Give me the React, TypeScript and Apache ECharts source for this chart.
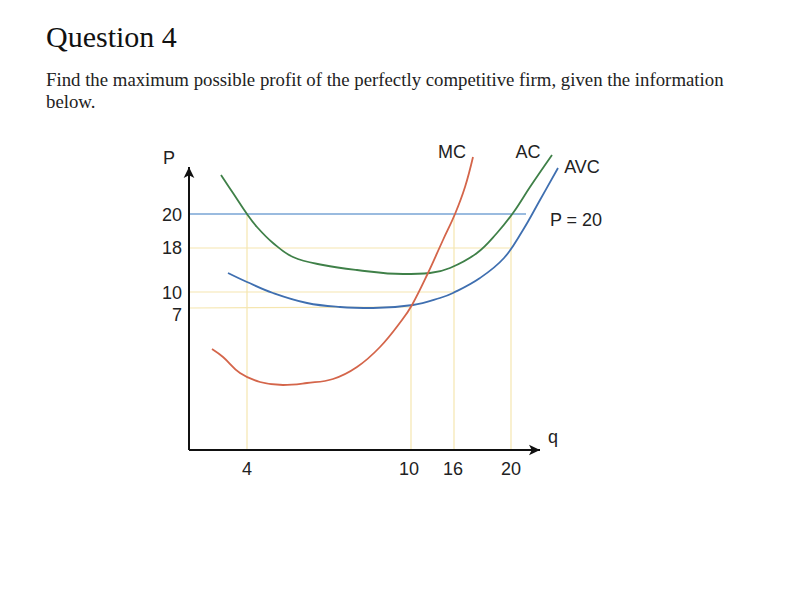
import React, { useEffect, useRef } from "react";
import * as echarts from "echarts";

// Sketch units: the drawing is not to scale, so positions are in the sketch's own units
const qTickLabels = ["4", "10", "16", "20"];
const qTickPos = [58, 220, 264, 322];
const pTickLabels = ["20", "18", "10", "7"];
const pTickPos = [235, 202, 157, 135];

// Curves [q-position, P-position]
const acCurve = [
  [32, 275], [44, 257], [58, 236], [68, 223], [84, 207], [104, 193], [134, 185],
  [168, 180], [214, 176], [241, 177], [261, 182], [288, 197], [308, 217],
  [324, 237], [341, 263], [363, 295],
];
const avcCurve = [
  [39, 177], [58, 168], [84, 157], [118, 147], [151, 143], [184, 142], [224, 145],
  [251, 152], [264, 157], [291, 172], [315, 192], [334, 220], [351, 250], [369, 282],
];
const mcCurve = [
  [23, 101], [34, 93], [51, 77], [71, 68], [94, 65], [118, 67], [144, 71],
  [168, 83], [191, 103], [213, 130], [223, 145], [239, 177], [254, 210],
  [266, 236], [276, 263], [284, 293],
];
const priceLine = [[0, 236], [337, 236]];

// Axis extents in sketch units
const qAxisEnd = 351;
const pAxisEnd = 283;

// Guide segments (light yellow)
const guideSegments = [
  [[58, 236], [58, 0]],
  [[222, 144], [222, 0]],
  [[265, 236], [265, 0]],
  [[322, 236], [322, 0]],
  [[0, 202], [322, 202]],
  [[0, 158], [265, 158]],
  [[0, 142], [222, 143]],
];

const curveLabels = [
  { text: "MC", x: 452, y: 152 },
  { text: "AC", x: 528, y: 152 },
  { text: "AVC", x: 582, y: 167 },
  { text: "P = 20", x: 576, y: 220 },
  { text: "P", x: 169, y: 158 },
  { text: "q", x: 553, y: 437 },
];

const X_MAX = 390;
const Y_MAX = 320;

export default function App() {
  const ref = useRef<HTMLDivElement>(null);
  useEffect(() => {
    if (!ref.current) return;
    const chart = echarts.init(ref.current, undefined, { renderer: "svg" });
    const sans = "Liberation Sans, Arial, sans-serif";
    const guideSeries = guideSegments.map((seg, i) => ({
      type: "line",
      name: "guide" + i,
      data: seg,
      showSymbol: false,
      silent: true,
      clip: false,
      z: 1,
      lineStyle: { color: "#f5e6b0", width: 1.2 },
    }));
    const curve = (name: string, data: number[][], color: string, z = 3) => ({
      type: "line",
      name,
      data,
      smooth: 0.4,
      showSymbol: false,
      clip: false,
      z,
      lineStyle: { color, width: 1.8 },
    });
    chart.setOption({
      animation: false,
      backgroundColor: "#ffffff",
      grid: { left: 189, top: 450 - Y_MAX, width: X_MAX, height: Y_MAX, containLabel: false },
      xAxis: {
        type: "value",
        min: 0,
        max: X_MAX,
        splitLine: { show: false },
        axisTick: { show: false },
        axisLine: { show: false },
        axisLabel: {
          customValues: qTickPos,
          formatter: (v: number) => qTickLabels[qTickPos.indexOf(v)] ?? "",
          color: "#222",
          fontSize: 18,
          fontFamily: sans,
          margin: 10,
        },
      },
      yAxis: {
        type: "value",
        min: 0,
        max: Y_MAX,
        splitLine: { show: false },
        axisTick: { show: false },
        axisLine: { show: false },
        axisLabel: {
          customValues: pTickPos,
          formatter: (v: number) => pTickLabels[pTickPos.indexOf(v)] ?? "",
          color: "#222",
          fontSize: 18,
          fontFamily: sans,
          margin: 7,
        },
      },
      series: [
        ...guideSeries,
        {
          type: "line",
          name: "P = 20",
          data: priceLine,
          showSymbol: false,
          clip: false,
          z: 2,
          lineStyle: { color: "#78a5d5", width: 1.6 },
        },
        curve("AC", acCurve, "#3f8048"),
        curve("AVC", avcCurve, "#3f6fb0"),
        curve("MC", mcCurve, "#d4654a", 4),
        {
          type: "line",
          name: "axes",
          data: [],
          z: 5,
          markLine: {
            silent: true,
            symbol: ["none", "arrow"],
            symbolSize: [8, 11],
            label: { show: false },
            lineStyle: { color: "#111", width: 2, type: "solid" },
            data: [
              [{ coord: [0, 0] }, { coord: [qAxisEnd, 0] }],
              [{ coord: [0, 0] }, { coord: [0, pAxisEnd] }],
            ],
          },
        },
      ],
      graphic: [
        {
          type: "text",
          left: 46,
          top: 21,
          style: { text: "Question 4", font: "30px 'Liberation Serif', serif", fill: "#111" },
        },
        {
          type: "text",
          left: 46,
          top: 70,
          style: {
            text: "Find the maximum possible profit of the perfectly competitive firm, given the information",
            font: "18.8px 'Liberation Serif', serif",
            fill: "#222",
          },
        },
        {
          type: "text",
          left: 46,
          top: 92,
          style: { text: "below.", font: "18.8px 'Liberation Serif', serif", fill: "#222" },
        },
        ...curveLabels.map((l) => ({
          type: "text",
          x: l.x,
          y: l.y,
          style: {
            text: l.text,
            font: "18px 'Liberation Sans', Arial, sans-serif",
            fill: "#222",
            align: "center",
            verticalAlign: "middle",
          },
        })),
      ],
    });
    return () => chart.dispose();
  }, []);
  return (
    <div
      ref={ref}
      style={{ position: "absolute", left: 0, top: 0, width: 787, height: 594, background: "#fff" }}
    />
  );
}
